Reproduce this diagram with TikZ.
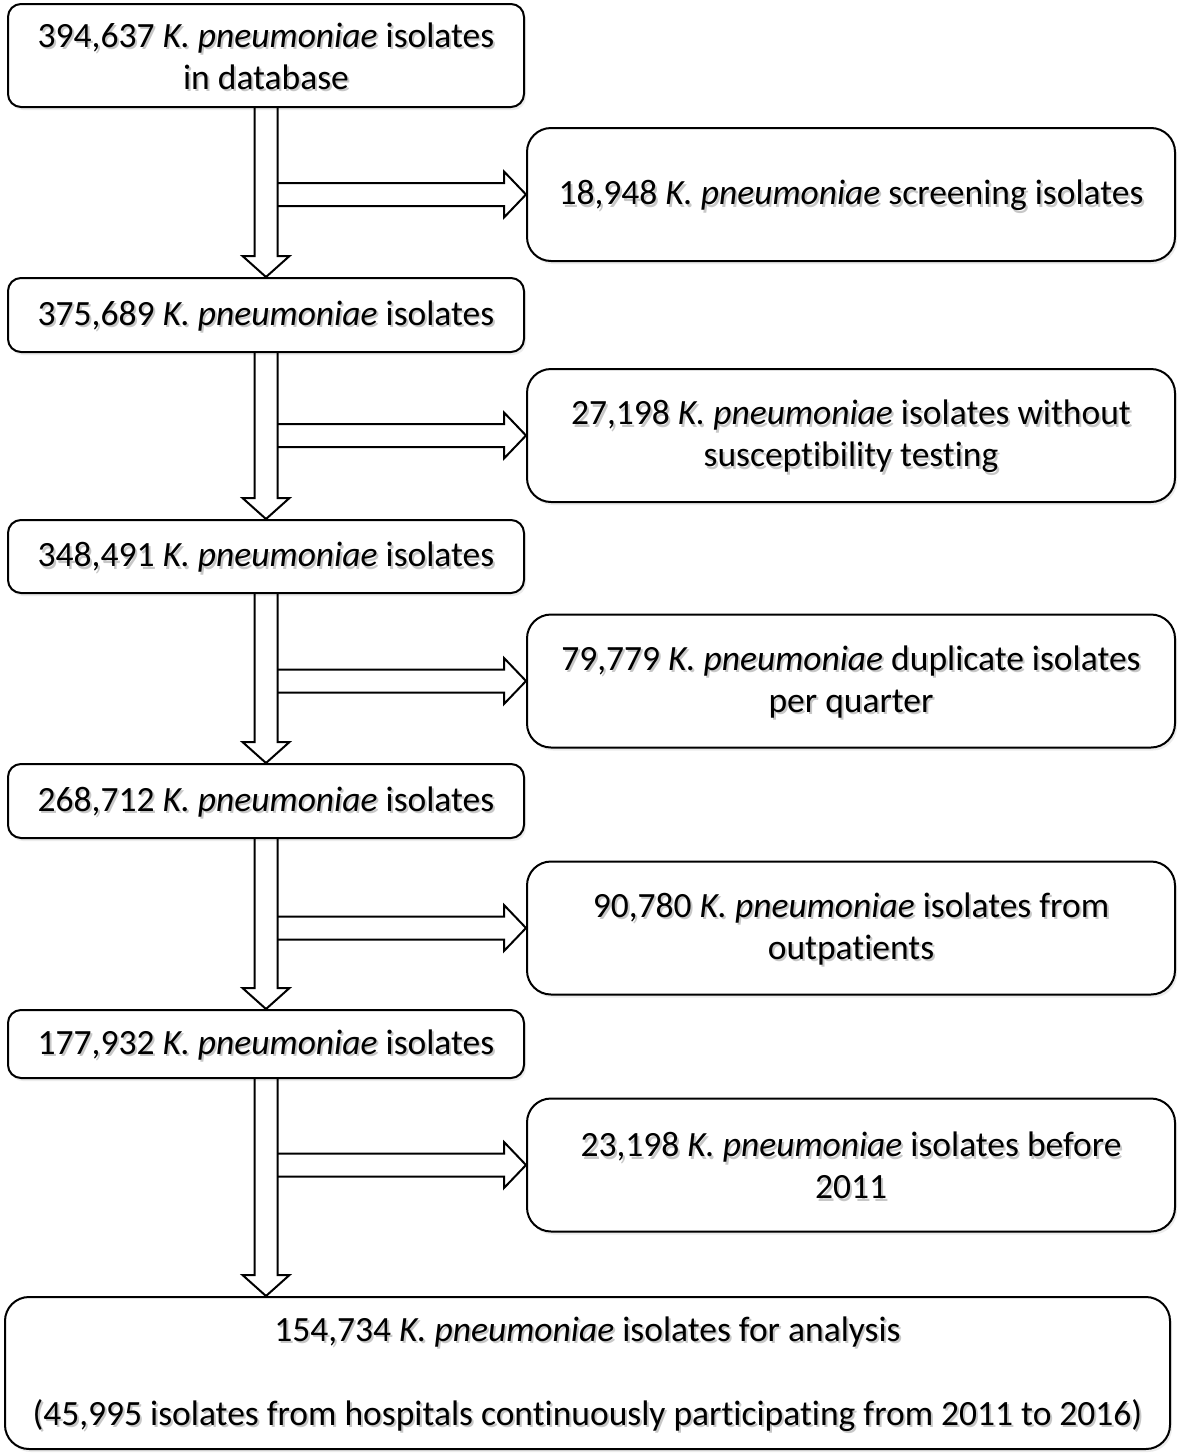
\documentclass[tikz,border=0pt]{standalone}
\usepackage{fontspec}
\setmainfont{Carlito}[Ligatures=NoCommon]
\usetikzlibrary{calc,shadows}
\newcommand\shdin[1]{\rlap{\kern2pt\raisebox{-2.5pt}{\textcolor{black!22}{#1}}}#1}
\newcommand\shd[1]{\leavevmode\raisebox{-2pt}[\height][\depth]{\shdin{#1}}}
\newcommand\kp{\textit{K. pneumoniae}}
\tikzset{
  box/.style={draw, line width=2pt, rounded corners=13pt, minimum width=516pt,
    align=center, inner sep=0pt, fill=white,
    font=\fontsize{35.5pt}{42pt}\selectfont,
    drop shadow={opacity=0.15, shadow xshift=2pt, shadow yshift=-3pt}},
  sidebox/.style={box, rounded corners=24pt, minimum width=648pt, minimum height=133pt},
  blk/.style={draw, line width=2pt, line join=miter},
}
\begin{document}
\begin{tikzpicture}[x=1pt,y=-1pt]
\useasboundingbox (0,0) rectangle (1181,1454);
\fill[white] (0,0) rectangle (1181,1454);

\node[box, minimum height=103pt] (b1) at (266,55.5) {\shd{394,637 \kp{} isolates}\\\shd{in database}};
\node[box, minimum height=74pt] (b2) at (266,315) {\shd{375,689 \kp{} isolates}};
\node[box, minimum height=73pt] (b3) at (266,556.5) {\shd{348,491 \kp{} isolates}};
\node[box, minimum height=74pt] (b4) at (266,801) {\shd{268,712 \kp{} isolates}};
\node[box, minimum height=68pt] (b5) at (266,1044) {\shd{177,932 \kp{} isolates}};
\node[box, rounded corners=24pt, minimum width=1165pt, minimum height=152pt] (b6) at (587.5,1373)
  {\shd{154,734 \kp{} isolates for analysis}\\[42pt]\shd{(45,995 isolates from hospitals continuously participating from 2011 to 2016)}};

\node[sidebox] (s1) at (851,194.5) {\shd{18,948 \kp{} screening\ isolates}};
\node[sidebox] (s2) at (851,435.5) {\shd{27,198 \kp{} isolates without}\\\shd{susceptibility testing}};
\node[sidebox] (s3) at (851,681) {\shd{79,779 \kp{} duplicate isolates}\\\shd{per quarter}};
\node[sidebox] (s4) at (851,928) {\shd{90,780 \kp{} isolates from}\\\shd{outpatients}};
\node[sidebox] (s5) at (851,1165) {\shd{23,198 \kp{} isolates before}\\\shd{2011}};

\foreach \a/\b in {b1/b2,b2/b3,b3/b4,b4/b5,b5/b6}{
  \draw[blk] ($(\a.south)+(-11.5,0)$) -- ($(\a.south |- \b.north)+(-11.5,-21)$)
    -- ($(\a.south |- \b.north)+(-23.5,-21)$) -- (\a.south |- \b.north)
    -- ($(\a.south |- \b.north)+(23.5,-21)$) -- ($(\a.south |- \b.north)+(11.5,-21)$)
    -- ($(\a.south)+(11.5,0)$);
}
\foreach \a/\s in {b1/s1,b2/s2,b3/s3,b4/s4,b5/s5}{
  \draw[blk] ($(\a.south |- \s.west)+(11.5,-11.5)$) -- ($(\s.west)+(-22,-11.5)$)
    -- ($(\s.west)+(-22,-23)$) -- (\s.west) -- ($(\s.west)+(-22,23)$)
    -- ($(\s.west)+(-22,11.5)$) -- ($(\a.south |- \s.west)+(11.5,11.5)$);
}
\end{tikzpicture}
\end{document}
